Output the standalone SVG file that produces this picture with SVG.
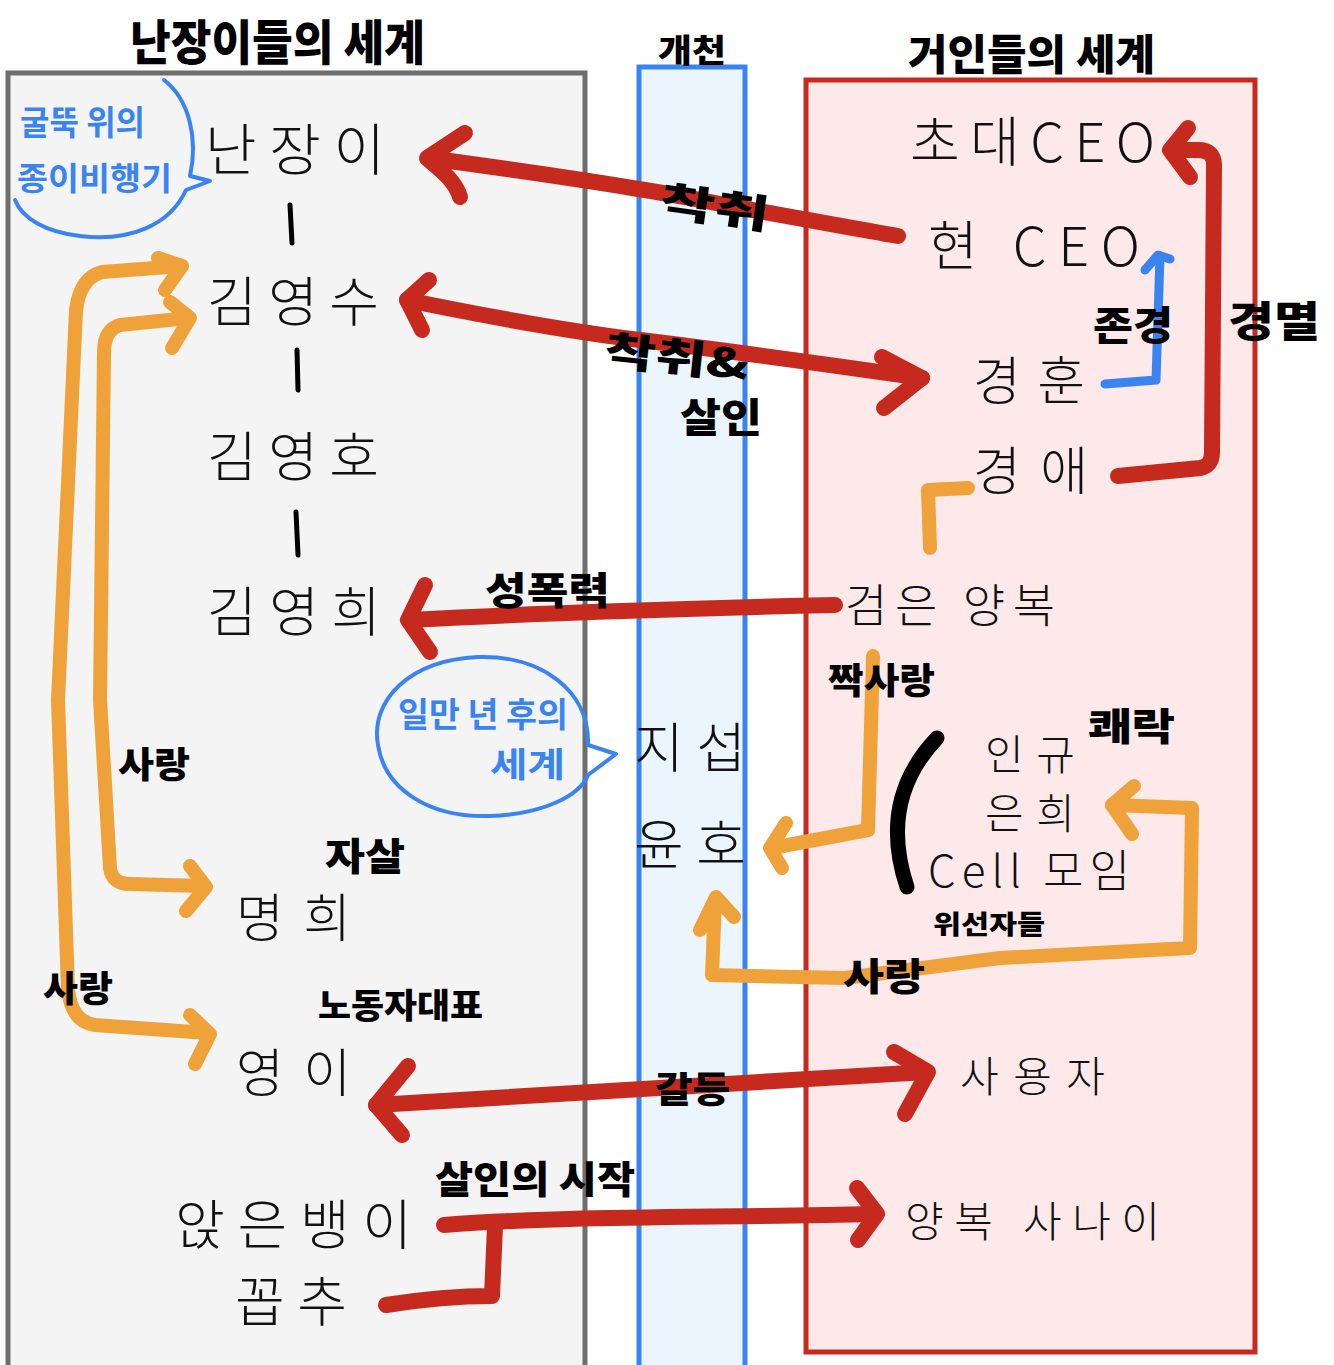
<svg xmlns="http://www.w3.org/2000/svg" width="1334" height="1365" viewBox="0 0 1334 1365">
<style>
.node{font-family:"Noto Sans CJK KR","Noto Sans",sans-serif;font-weight:300;fill:#111;}
.lbl{font-family:"Noto Sans CJK KR","Noto Sans",sans-serif;font-weight:900;fill:#000;}
.blu{font-family:"Noto Sans CJK KR","Noto Sans",sans-serif;font-weight:700;fill:#3a84f2;}
.red{fill:none;stroke:#c62a1f;stroke-width:16;stroke-linecap:round;stroke-linejoin:round;}
.org{fill:none;stroke:#f0a23a;stroke-width:14;stroke-linecap:round;stroke-linejoin:round;}
.blue{fill:none;stroke:#3a84f2;stroke-width:9;stroke-linecap:round;stroke-linejoin:round;}
.blk{fill:none;stroke:#000;stroke-width:5;stroke-linecap:round;}
.bub{fill:none;stroke:#3a84f2;stroke-width:4;stroke-linecap:round;stroke-linejoin:round;}
</style>
<rect x="0" y="0" width="1334" height="1365" fill="#fff"/>
<!-- regions -->
<g id="left-world">
<rect x="8" y="73" width="577" height="1300" fill="#f4f4f4" stroke="#6e6e6e" stroke-width="5"/>
<text class="lbl" x="130" y="60" font-size="48" textLength="295" lengthAdjust="spacingAndGlyphs">난장이들의 세계</text>
</g>
<g id="stream">
<rect x="639" y="67" width="106" height="1310" fill="#eaf5fd" stroke="#3a84f2" stroke-width="5"/>
<text class="lbl" x="658" y="62" font-size="32" textLength="68" lengthAdjust="spacingAndGlyphs">개천</text>
</g>
<g id="right-world">
<rect x="806" y="80" width="449" height="1272" fill="#fde9e9" stroke="#c62a1f" stroke-width="5"/>
<text class="lbl" x="908" y="70" font-size="42" textLength="247" lengthAdjust="spacingAndGlyphs">거인들의 세계</text>
</g>

<!-- speech bubbles -->
<g id="bubble-paper-plane">
<path class="bub" d="M 164 80 C 190 100, 198 140, 190 176 L 210 181 L 186 190 C 170 225, 130 242, 80 236 C 45 232, 22 218, 15 200"/>
<text class="blu" x="20" y="135" font-size="34" textLength="125" lengthAdjust="spacingAndGlyphs">굴뚝 위의</text>
<text class="blu" x="17" y="190" font-size="32" textLength="155" lengthAdjust="spacingAndGlyphs">종이비행기</text>
</g>
<g id="bubble-ten-thousand">
<path class="bub" d="M 588 745 C 590 690, 540 655, 478 657 C 410 660, 370 700, 378 745 C 385 790, 430 818, 490 816 C 545 814, 580 795, 588 775 L 616 754 Z"/>
<text class="blu" x="398" y="727" font-size="34" textLength="170" lengthAdjust="spacingAndGlyphs">일만 년 후의</text>
<text class="blu" x="490" y="777" font-size="34" textLength="75" lengthAdjust="spacingAndGlyphs">세계</text>
</g>

<!-- connectors -->
<g id="connectors">
<!-- family lines -->
<line class="blk" x1="290" y1="205" x2="292" y2="243"/>
<line class="blk" x1="297" y1="350" x2="298" y2="390"/>
<line class="blk" x1="296" y1="512" x2="298" y2="555"/>
<!-- 착취 -->
<path class="red" d="M 898 236 C 820 222, 760 212, 700 200 C 640 188, 560 176, 428 158"/>
<path class="red" d="M 465 133 L 427 158 C 440 170, 455 180, 460 197"/>
<!-- 착취 & 살인 -->
<path class="red" d="M 407 300 C 480 315, 560 330, 640 340 C 740 352, 830 365, 922 378"/>
<path class="red" d="M 429 280 L 407 300 L 422 330"/>
<path class="red" d="M 882 357 L 922 378 L 884 408"/>
<!-- 존경 -->
<path class="blue" d="M 1105 384 L 1156 380 L 1160 256"/>
<path class="blue" d="M 1145 270 L 1158 255 L 1170 259"/>
<!-- 경멸 -->
<path class="red" d="M 1118 476 L 1200 468 Q 1212 466 1212 452 L 1214 165 Q 1214 150 1198 150 L 1172 150"/>
<path class="red" d="M 1188 128 L 1170 150 L 1190 177"/>
<!-- 성폭력 -->
<path class="red" d="M 835 605 C 700 608, 560 612, 410 620"/>
<path class="red" d="M 425 585 L 408 620 L 430 652"/>
<!-- 갈등 -->
<path class="red" d="M 376 1105 C 500 1098, 650 1088, 926 1072"/>
<path class="red" d="M 408 1066 L 376 1105 L 402 1135"/>
<path class="red" d="M 894 1052 L 928 1072 L 905 1114"/>
<!-- 살인의 시작 -->
<path class="red" d="M 444 1225 C 560 1216, 700 1218, 875 1214"/>
<path class="red" d="M 386 1305 C 430 1298, 460 1296, 492 1296 L 495 1226"/>
<path class="red" d="M 857 1188 L 877 1214 L 858 1240"/>
<!-- 사랑 outer (김영수 - 영이) -->
<path class="org" d="M 181 266 L 102 272 Q 80 278 76 310 L 58 700 L 68 990 Q 72 1022 95 1025 L 208 1033"/>
<path class="org" d="M 158 258 L 182 266 L 165 290"/>
<path class="org" d="M 190 1015 L 210 1034 L 195 1064"/>
<!-- 사랑 inner (김영수 - 명희) -->
<path class="org" d="M 188 318 L 120 325 Q 104 330 104 352 L 100 700 L 110 868 Q 112 884 130 884 L 204 886"/>
<path class="org" d="M 170 302 L 190 318 L 172 348"/>
<path class="org" d="M 190 866 L 206 887 L 186 911"/>
<!-- 경애 - 검은 양복 -->
<path class="org" d="M 968 488 L 928 490 L 930 548"/>
<!-- 짝사랑 -->
<path class="org" d="M 873 656 L 868 830 L 772 848"/>
<path class="org" d="M 786 823 L 770 848 L 782 868"/>
<!-- 사랑 (윤호 - Cell 모임) -->
<path class="org" d="M 715 900 L 712 975 L 845 978 L 1000 958 L 1190 948 L 1192 808 L 1112 805"/>
<path class="org" d="M 700 930 L 716 897 L 734 917"/>
<path class="org" d="M 1134 786 L 1112 805 L 1132 834"/>
<!-- Cell bracket -->
<path d="M 937 738 Q 878 800 907 887" fill="none" stroke="#000" stroke-width="15" stroke-linecap="round"/>
</g>

<!-- edge labels -->
<g id="edge-labels">
<text class="lbl" x="660" y="222" font-size="40" textLength="110" lengthAdjust="spacingAndGlyphs" transform="rotate(8 715 205)">착취</text>
<text class="lbl" x="605" y="372" font-size="40" textLength="145" lengthAdjust="spacingAndGlyphs" transform="rotate(6 677 352)">착취&amp;</text>
<text class="lbl" x="680" y="432" font-size="40" textLength="82" lengthAdjust="spacingAndGlyphs">살인</text>
<text class="lbl" x="1093" y="340" font-size="40" textLength="80" lengthAdjust="spacingAndGlyphs">존경</text>
<text class="lbl" x="1228" y="337" font-size="42" textLength="92" lengthAdjust="spacingAndGlyphs">경멸</text>
<text class="lbl" x="485" y="604" font-size="38" textLength="125" lengthAdjust="spacingAndGlyphs">성폭력</text>
<text class="lbl" x="828" y="694" font-size="36" textLength="107" lengthAdjust="spacingAndGlyphs">짝사랑</text>
<text class="lbl" x="1088" y="740" font-size="38" textLength="87" lengthAdjust="spacingAndGlyphs">쾌락</text>
<text class="lbl" x="933" y="934" font-size="26" textLength="112" lengthAdjust="spacingAndGlyphs">위선자들</text>
<text class="lbl" x="843" y="990" font-size="38" textLength="82" lengthAdjust="spacingAndGlyphs">사랑</text>
<text class="lbl" x="118" y="778" font-size="36" textLength="72" lengthAdjust="spacingAndGlyphs">사랑</text>
<text class="lbl" x="43" y="1002" font-size="36" textLength="70" lengthAdjust="spacingAndGlyphs">사랑</text>
<text class="lbl" x="325" y="870" font-size="38" textLength="80" lengthAdjust="spacingAndGlyphs">자살</text>
<text class="lbl" x="318" y="1018" font-size="34" textLength="165" lengthAdjust="spacingAndGlyphs">노동자대표</text>
<text class="lbl" x="655" y="1103" font-size="36" textLength="75" lengthAdjust="spacingAndGlyphs">갈등</text>
<text class="lbl" x="435" y="1193" font-size="38" textLength="200" lengthAdjust="spacingAndGlyphs">살인의 시작</text>
</g>

<!-- nodes -->
<g id="n-nanjangi"><text class="node" x="205" y="170" font-size="56" textLength="180" lengthAdjust="spacing">난장이</text></g>
<g id="n-kimyoungsu"><text class="node" x="207" y="322" font-size="54" textLength="172" lengthAdjust="spacing">김영수</text></g>
<g id="n-kimyoungho"><text class="node" x="207" y="477" font-size="54" textLength="172" lengthAdjust="spacing">김영호</text></g>
<g id="n-kimyounghee"><text class="node" x="207" y="632" font-size="54" textLength="174" lengthAdjust="spacing">김영희</text></g>
<g id="n-myunghee"><text class="node" x="236" y="937" font-size="52" textLength="115" lengthAdjust="spacing">명희</text></g>
<g id="n-youngi"><text class="node" x="236" y="1092" font-size="52" textLength="115" lengthAdjust="spacing">영이</text></g>
<g id="n-anjeunbaengi"><text class="node" x="175" y="1245" font-size="54" textLength="237" lengthAdjust="spacing">앉은뱅이</text></g>
<g id="n-kkopchu"><text class="node" x="235" y="1322" font-size="54" textLength="112" lengthAdjust="spacing">꼽추</text></g>
<g id="n-jiseop"><text class="node" x="634" y="768" font-size="54" textLength="112" lengthAdjust="spacing">지섭</text></g>
<g id="n-yunho"><text class="node" x="634" y="865" font-size="54" textLength="112" lengthAdjust="spacing">윤호</text></g>
<g id="n-first-ceo"><text class="node" x="910" y="162" font-size="54" textLength="245" lengthAdjust="spacing">초대CEO</text></g>
<g id="n-current-ceo"><text class="node" x="928" y="266" font-size="54" textLength="212" lengthAdjust="spacing">현 CEO</text></g>
<g id="n-kyunghun"><text class="node" x="973" y="400" font-size="52" textLength="112" lengthAdjust="spacing">경훈</text></g>
<g id="n-kyungae"><text class="node" x="973" y="490" font-size="52" textLength="115" lengthAdjust="spacing">경애</text></g>
<g id="n-black-suit"><text class="node" x="845" y="622" font-size="46" textLength="210" lengthAdjust="spacing">검은 양복</text></g>
<g id="n-ingyu"><text class="node" x="985" y="770" font-size="42" textLength="90" lengthAdjust="spacing">인규</text></g>
<g id="n-eunhee"><text class="node" x="985" y="829" font-size="42" textLength="90" lengthAdjust="spacing">은희</text></g>
<g id="n-cell"><text class="node" x="928" y="887" font-size="44" textLength="202" lengthAdjust="spacing">Cell 모임</text></g>
<g id="n-employer"><text class="node" x="960" y="1092" font-size="42" textLength="145" lengthAdjust="spacing">사용자</text></g>
<g id="n-suit-man"><text class="node" x="905" y="1237" font-size="42" textLength="255" lengthAdjust="spacing">양복 사나이</text></g>
</svg>
